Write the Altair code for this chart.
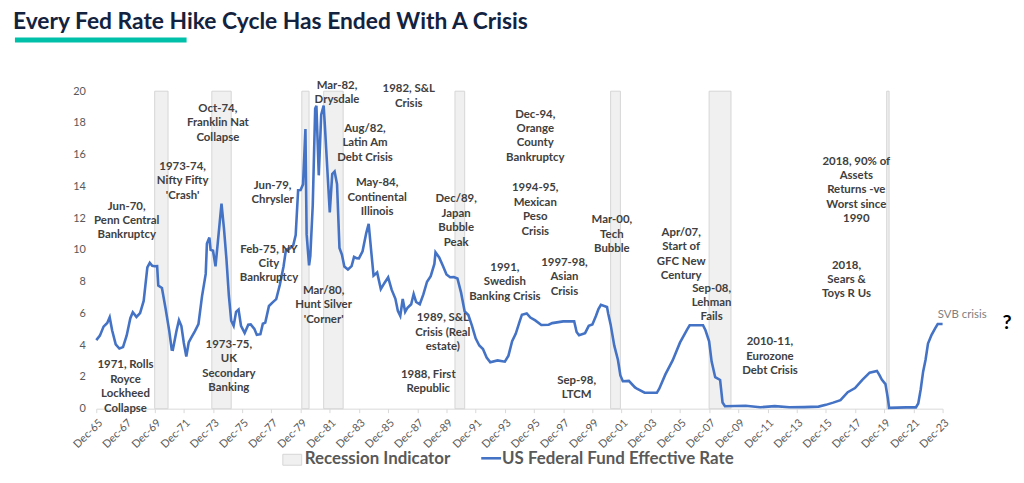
import altair as alt
import pandas as pd

# ---------------- data ----------------
rate_dates = [
    "1965-12", "1966-03", "1966-06", "1966-09", "1966-11", "1967-01", "1967-04", "1967-07", "1967-10",
    "1968-01", "1968-04", "1968-06", "1968-09", "1968-12", "1969-03", "1969-06", "1969-08", "1969-10",
    "1969-12", "1970-02", "1970-03", "1970-06", "1970-09", "1970-12", "1971-02", "1971-03", "1971-06",
    "1971-08", "1971-10", "1971-12", "1972-02", "1972-04", "1972-06", "1972-09", "1972-12", "1973-03",
    "1973-06", "1973-07", "1973-09", "1973-10", "1973-12", "1974-02", "1974-04", "1974-07", "1974-09",
    "1974-11", "1975-01", "1975-03", "1975-05", "1975-07", "1975-09", "1975-11", "1976-02", "1976-05",
    "1976-07", "1976-10", "1976-12", "1977-03", "1977-05", "1977-07", "1977-10", "1978-01", "1978-04",
    "1978-07", "1978-10", "1978-12", "1979-03", "1979-06", "1979-08", "1979-10", "1979-12", "1980-02",
    "1980-04", "1980-05", "1980-07", "1980-08", "1980-10", "1980-12", "1981-01", "1981-03", "1981-05",
    "1981-07", "1981-08", "1981-10", "1981-12", "1982-02", "1982-04", "1982-06", "1982-08", "1982-10",
    "1982-12", "1983-03", "1983-06", "1983-08", "1983-10", "1983-12", "1984-03", "1984-06", "1984-08",
    "1984-10", "1984-12", "1985-03", "1985-06", "1985-09", "1985-12", "1986-03", "1986-06", "1986-08",
    "1986-10", "1986-12", "1987-02", "1987-04", "1987-07", "1987-09", "1987-11", "1988-02", "1988-05",
    "1988-08", "1988-11", "1989-02", "1989-03", "1989-06", "1989-09", "1989-12", "1990-03", "1990-06",
    "1990-09", "1990-12", "1991-03", "1991-06", "1991-09", "1991-12", "1992-03", "1992-06", "1992-09",
    "1992-12", "1993-06", "1993-12", "1994-03", "1994-06", "1994-09", "1994-12", "1995-02", "1995-06",
    "1995-09", "1996-01", "1996-06", "1996-12", "1997-03", "1997-12", "1998-09", "1998-11", "1999-01",
    "1999-06", "1999-09", "1999-12", "2000-03", "2000-05", "2000-07", "2000-12", "2001-01", "2001-03",
    "2001-06", "2001-09", "2001-11", "2002-01", "2002-06", "2002-11", "2003-01", "2003-07", "2004-05",
    "2004-07", "2004-12", "2005-06", "2005-12", "2006-06", "2006-08", "2007-07", "2007-09", "2007-12",
    "2008-02", "2008-05", "2008-09", "2008-11", "2009-01", "2010-06", "2011-06", "2012-06", "2013-06",
    "2014-06", "2015-06", "2015-12", "2016-06", "2016-12", "2017-06", "2017-12", "2018-06", "2018-12",
    "2019-06", "2019-08", "2019-10", "2020-01", "2020-03", "2020-04", "2021-06", "2022-02", "2022-04",
    "2022-06", "2022-08", "2022-10", "2022-12", "2023-03", "2023-06", "2023-08", "2023-12",
]
rate_values = [
    4.32, 4.6, 5.17, 5.4, 5.76, 4.94, 4.05, 3.79, 3.88,
    4.61, 5.7, 6.07, 5.78, 6.02, 6.79, 8.9, 9.19, 9.0,
    8.97, 8.98, 7.76, 7.6, 6.29, 4.9, 3.72, 3.71, 4.91,
    5.57, 5.2, 4.14, 3.29, 4.17, 4.46, 4.87, 5.33, 7.09,
    8.49, 10.4, 10.78, 10.01, 9.95, 8.97, 10.51, 12.92, 11.34,
    9.45, 7.13, 5.54, 5.22, 6.1, 6.24, 5.22, 4.77, 5.29,
    5.31, 5.03, 4.65, 4.69, 5.35, 5.42, 6.47, 6.7, 6.9,
    7.81, 8.96, 10.03, 10.09, 10.29, 10.94, 13.77, 13.78, 14.13,
    17.61, 10.98, 9.03, 9.61, 12.81, 18.9, 19.08, 14.7, 18.52,
    19.1, 17.82, 15.08, 12.37, 14.78, 14.94, 14.15, 10.12, 9.71,
    8.95, 8.77, 8.98, 9.56, 9.48, 9.47, 9.91, 11.06, 11.64,
    9.99, 8.38, 8.58, 7.53, 7.92, 8.27, 7.48, 6.92, 6.17,
    5.85, 6.91, 6.1, 6.36, 6.58, 7.22, 6.72, 6.58, 7.2,
    8.0, 8.35, 9.12, 9.85, 9.53, 9.0, 8.45, 8.28, 8.29,
    8.2, 7.31, 6.12, 5.9, 5.22, 4.43, 3.98, 3.76, 3.22,
    2.92, 3.04, 2.96, 3.34, 4.25, 4.73, 5.45, 5.92, 6.0,
    5.74, 5.56, 5.27, 5.29, 5.39, 5.5, 5.51, 4.83, 4.63,
    4.76, 5.22, 5.3, 5.85, 6.27, 6.54, 6.4, 5.98, 5.31,
    3.97, 3.07, 2.09, 1.73, 1.75, 1.34, 1.24, 1.01, 1.0,
    1.26, 2.16, 3.04, 4.16, 4.99, 5.25, 5.26, 4.94, 4.24,
    2.98, 1.98, 1.81, 0.39, 0.15, 0.18, 0.09, 0.16, 0.09,
    0.1, 0.13, 0.24, 0.38, 0.54, 1.04, 1.3, 1.82, 2.27,
    2.38, 2.13, 1.83, 1.55, 0.65, 0.05, 0.08, 0.08, 0.33,
    1.21, 2.33, 3.08, 4.1, 4.65, 5.08, 5.33, 5.33,
]

rec_start = ["1969-12", "1973-11", "1980-01", "1981-07", "1990-07", "2001-03", "2007-12", "2020-02"]
rec_end = ["1970-11", "1975-03", "1980-07", "1982-11", "1991-03", "2001-11", "2009-06", "2020-04"]

ann_dates = [
    "1968-01", "1971-11", "1974-04", "1978-01", "1977-10", "1967-12", "1975-01",
    "1982-06", "1987-05", "1984-05", "1985-03", "1990-08", "1981-07", "1989-09",
    "1988-09", "1993-12", "1996-01", "1996-01", "1998-01", "2001-04", "2006-01",
    "2008-02", "1998-11", "2012-02", "2018-01", "2017-05",
]
ann_values = [
    13.1, 15.6, 19.25, 14.4, 10.4, 3.1, 4.4,
    20.7, 20.5, 18.0, 14.56, 13.56, 7.8, 6.06,
    2.5, 9.25, 18.9, 14.25, 9.56, 12.25, 11.44,
    7.94, 2.12, 4.56, 15.94, 9.38,
]
ann_texts = [
    "Jun-70,\nPenn Central\nBankruptcy",
    "1973-74,\nNifty Fifty\n'Crash'",
    "Oct-74,\nFranklin Nat\nCollapse",
    "Jun-79,\nChrysler",
    "Feb-75, NY\nCity\nBankruptcy",
    "1971, Rolls\nRoyce\nLockheed\nCollapse",
    "1973-75,\nUK\nSecondary\nBanking",
    "Mar-82,\nDrysdale",
    "1982, S&L\nCrisis",
    "Aug/82,\nLatin Am\nDebt Crisis",
    "May-84,\nContinental\nIllinois",
    "Dec/89,\nJapan\nBubble\nPeak",
    "Mar/80,\nHunt Silver\n'Corner'",
    "1989, S&L\nCrisis (Real\nestate)",
    "1988, First\nRepublic",
    "1991,\nSwedish\nBanking Crisis",
    "Dec-94,\nOrange\nCounty\nBankruptcy",
    "1994-95,\nMexican\nPeso\nCrisis",
    "1997-98,\nAsian\nCrisis",
    "Mar-00,\nTech\nBubble",
    "Apr/07,\nStart of\nGFC New\nCentury",
    "Sep-08,\nLehman\nFails",
    "Sep-98,\nLTCM",
    "2010-11,\nEurozone\nDebt Crisis",
    "2018, 90% of\nAssets\nReturns -ve\nWorst since\n1990",
    "2018,\nSears &\nToys R Us",
]

svb_date = ["2023-08"]
svb_value = [5.9]
svb_text = ["SVB crisis"]
q_date = ["2028-05"]
q_value = [5.4]
q_text = ["?"]

title_text = "Every Fed Rate Hike Cycle Has Ended With A Crisis"
legend_labels = ["Recession Indicator", "US Federal Fund Effective Rate"]
x_tick_years = list(range(1965, 2024, 2))
y_ticks = list(range(0, 21, 2))

# ---------------- tables ----------------
rates = pd.DataFrame({"date": pd.to_datetime(rate_dates), "rate": rate_values})
rec = pd.DataFrame({"start": pd.to_datetime(rec_start), "end": pd.to_datetime(rec_end)})
ann = pd.DataFrame({"date": pd.to_datetime(ann_dates), "v": ann_values, "t": ann_texts})
svb = pd.DataFrame({"date": pd.to_datetime(svb_date), "v": svb_value, "t": svb_text})
qq = pd.DataFrame({"date": pd.to_datetime(q_date), "v": q_value, "t": q_text})

FONT = "Lato"
GRAY = "#595959"
W, H = 853, 320

xscale = alt.Scale(domain=[alt.DateTime(year=1965, month=12, date=1),
                           alt.DateTime(year=2023, month=12, date=1)])
yscale = alt.Scale(domain=[0, 20])

xaxis = alt.Axis(values=[alt.DateTime(year=y, month=12, date=1) for y in x_tick_years],
                 format="%b-%y", labelAngle=-45, labelAlign="right", labelBaseline="top",
                 labelFont=FONT, labelFontSize=11, labelColor=GRAY, labelPadding=4,
                 domainColor="#d9d9d9", tickColor="#d9d9d9", tickSize=4, grid=False,
                 labelOverlap=False)
yaxis = alt.Axis(values=y_ticks, labelFont=FONT, labelFontSize=11, labelColor=GRAY,
                 domain=False, ticks=False, labelPadding=11, grid=False, labelOverlap=False)

bands = alt.Chart(rec).mark_rect(fill="#f0f0f0", stroke="#d6d6d6", strokeWidth=1).encode(
    x=alt.X("start:T", scale=xscale, axis=xaxis, title=None),
    x2="end:T",
    y=alt.Y(datum=20, scale=yscale, axis=yaxis, title=None),
    y2=alt.Y2(datum=0),
)

line = alt.Chart(rates).mark_line(color="#4472c4", strokeWidth=2.6).encode(
    x=alt.X("date:T", scale=xscale, axis=xaxis, title=None),
    y=alt.Y("rate:Q", scale=yscale, axis=yaxis, title=None),
)

labels = alt.Chart(ann).mark_text(
    align="center", baseline="top", lineBreak="\n", lineHeight=14.5,
    font=FONT, fontWeight="bold", fontSize=11.5, color="#404040",
).encode(
    x=alt.X("date:T", scale=xscale, axis=xaxis, title=None),
    y=alt.Y("v:Q", scale=yscale, axis=yaxis, title=None),
    text="t:N",
)

svb_lbl = alt.Chart(svb).mark_text(
    align="left", baseline="middle", font=FONT, fontSize=11.5, color="#7f7f7f",
).encode(
    x=alt.X("date:T", scale=xscale, axis=xaxis, title=None),
    y=alt.Y("v:Q", scale=yscale, axis=yaxis, title=None),
    text="t:N",
)

q_lbl = alt.Chart(qq).mark_text(
    align="center", baseline="middle", font=FONT, fontWeight="bold", fontSize=20, color="#000000",
).encode(
    x=alt.X("date:T", scale=xscale, axis=xaxis, title=None),
    y=alt.Y("v:Q", scale=yscale, axis=yaxis, title=None),
    text="t:N",
)

one = pd.DataFrame({"k": [0]})

title = alt.Chart(one).mark_text(
    text=title_text, align="left", baseline="alphabetic", font=FONT, fontWeight="bold",
    fontSize=23, color="#13233f",
).encode(x=alt.value(-84), y=alt.value(-63))

teal = alt.Chart(one).mark_rule(color="#00c0aa", strokeWidth=5).encode(
    x=alt.value(-82), x2=alt.value(91), y=alt.value(-51.5))

leg_rect = alt.Chart(one).mark_rect(fill="#f0f0f0", stroke="#d6d6d6", strokeWidth=1).encode(
    x=alt.value(188), x2=alt.value(207), y=alt.value(366), y2=alt.value(377))
leg_t1 = alt.Chart(one).mark_text(
    text=legend_labels[0], align="left", baseline="middle", font=FONT, fontWeight="bold",
    fontSize=17, color=GRAY).encode(x=alt.value(210), y=alt.value(371))
leg_line = alt.Chart(one).mark_rule(color="#4472c4", strokeWidth=2.6).encode(
    x=alt.value(388), x2=alt.value(408), y=alt.value(370))
leg_t2 = alt.Chart(one).mark_text(
    text=legend_labels[1], align="left", baseline="middle", font=FONT, fontWeight="bold",
    fontSize=17, color=GRAY).encode(x=alt.value(409), y=alt.value(371))

chart = alt.layer(
    bands, line, labels, svb_lbl, q_lbl, title, teal, leg_rect, leg_t1, leg_line, leg_t2
).properties(
    width=W, height=H,
    autosize=alt.AutoSizeParams(type="none"),
    padding={"left": 89, "top": 82, "right": 74, "bottom": 65},
).configure_view(strokeWidth=0).configure_axis(labelOverlap=False)

chart.save("out.html", embed_options={"renderer": "svg", "actions": False})
